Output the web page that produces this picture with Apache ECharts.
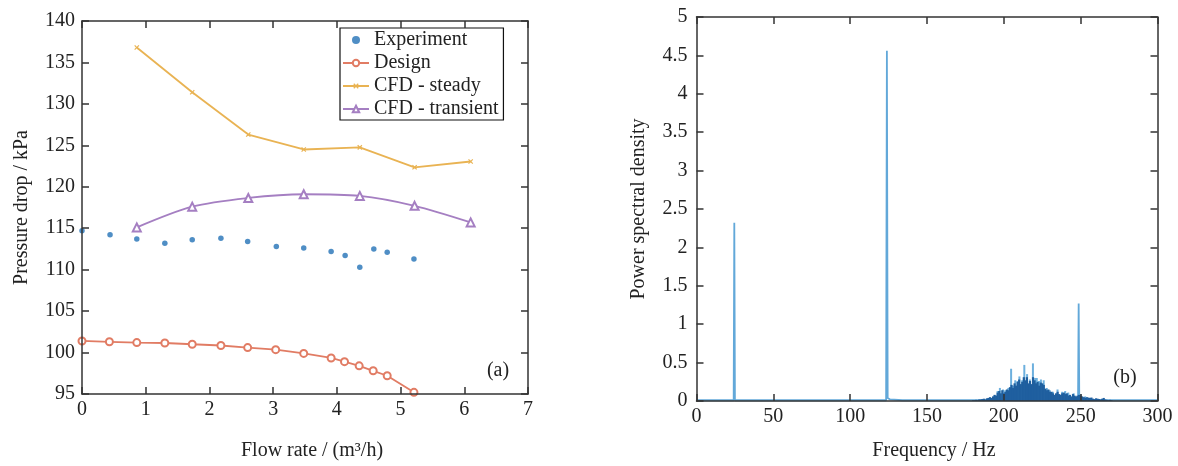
<!DOCTYPE html>
<html><head><meta charset="utf-8">
<script src="https://cdn.jsdelivr.net/npm/echarts@6/dist/echarts.min.js"></script>
<style>html,body{margin:0;padding:0;background:#fff}#c{width:1178px;height:466px}</style>
</head><body><div id="c"></div>
<script>
// ---- (a) pressure drop vs flow rate ----
const expFlow = [0, 0.44, 0.86, 1.30, 1.73, 2.18, 2.60, 3.05, 3.48, 3.91, 4.13, 4.36, 4.58, 4.79, 5.21];
const expDrop = [114.7, 114.2, 113.7, 113.2, 113.6, 113.8, 113.4, 112.8, 112.6, 112.2, 111.7, 110.3, 112.5, 112.1, 111.3];
const designFlow = [0, 0.43, 0.86, 1.30, 1.73, 2.18, 2.60, 3.04, 3.48, 3.91, 4.12, 4.35, 4.57, 4.79, 5.21];
const designDrop = [101.4, 101.3, 101.2, 101.15, 101.0, 100.85, 100.6, 100.35, 99.9, 99.35, 98.9, 98.4, 97.8, 97.2, 95.2];
const cfdFlow = [0.86, 1.73, 2.61, 3.48, 4.36, 5.22, 6.10];
const steadyDrop = [136.8, 131.4, 126.3, 124.5, 124.75, 122.35, 123.05];
const transientDrop = [115.1, 117.6, 118.65, 119.1, 118.9, 117.7, 115.7];
const seriesNames = ['Experiment', 'Design', 'CFD - steady', 'CFD - transient'];

// ---- (b) power spectral density ----
const peakFreq = [0, 24.2, 24.6, 25.0, 74, 74.5, 75, 123.4, 123.9, 124.4, 126, 127, 134, 134.5, 135, 170, 185, 248.3, 248.7, 249.1, 270, 300];
const peakValue = [0.01, 0.01, 2.32, 0.01, 0.01, 0.02, 0.01, 0.01, 4.56, 0.04, 0.02, 0.01, 0.01, 0.02, 0.01, 0.01, 0.01, 0.01, 1.27, 0.01, 0.01, 0.01];
const tipFreq = [194, 196, 197.5, 199.5, 201, 203, 204.8, 206, 207.5, 209, 210.2, 212, 213.4, 215.2, 217, 219.0, 220.5, 221.5, 223, 224.2, 226.0, 228, 230, 232, 235.0, 238, 240.0, 242, 245.5, 250, 253];
const tipValue = [0.07, 0.13, 0.17, 0.15, 0.14, 0.17, 0.42, 0.2, 0.27, 0.26, 0.32, 0.27, 0.47, 0.35, 0.28, 0.49, 0.3, 0.30, 0.26, 0.28, 0.27, 0.17, 0.14, 0.12, 0.15, 0.12, 0.13, 0.11, 0.10, 0.09, 0.06];
const bodyFreq = [180,181,182,183,184,185,186,187,188,189,190,191,192,193,194,195,196,197,198,199,
  200,201,202,203,204,205,206,207,208,209,210,211,212,213,214,215,216,217,218,219,
  220,221,222,223,224,225,226,227,228,229,230,231,232,233,234,235,236,237,238,239,
  240,241,242,243,244,245,246,247,248,249,250,251,252,253,254,255,256,257,258,259,
  260,261,262,263,264,265,266,267,268,269,270];
const bodyValue = [0.01,0.01,0.015,0.01,0.02,0.02,0.025,0.03,0.02,0.035,0.04,0.05,0.04,0.06,0.08,0.07,0.11,0.13,0.10,0.14,
  0.10,0.12,0.15,0.14,0.18,0.21,0.17,0.23,0.20,0.25,0.28,0.22,0.25,0.31,0.27,0.31,0.23,0.26,0.22,0.31,
  0.27,0.23,0.25,0.20,0.24,0.23,0.21,0.16,0.14,0.15,0.12,0.12,0.10,0.08,0.10,0.12,0.09,0.08,0.10,0.11,
  0.09,0.10,0.07,0.08,0.06,0.09,0.07,0.06,0.07,0.08,0.07,0.06,0.05,0.04,0.05,0.045,0.04,0.045,0.03,0.025,
  0.035,0.03,0.025,0.02,0.03,0.04,0.02,0.015,0.01,0.015,0.01];

const zip = (a, b) => a.map((v, i) => [v, b[i]]);
const FONT = 'Liberation Serif';
const AX = '#333';
const TXT = '#222';

function axisBase(extra) {
  return Object.assign({
    axisLine: { show: true, onZero: false, lineStyle: { color: AX, width: 1.5 } },
    axisTick: { show: true, inside: true, length: 7, lineStyle: { color: AX, width: 1.5 } },
    splitLine: { show: false },
    z: 10
  }, extra);
}
function labelStyle(margin) {
  return { show: true, margin: margin, fontSize: 20, fontFamily: FONT, color: TXT };
}
const noLabel = { show: false };

const chart = echarts.init(document.getElementById('c'), null, { renderer: 'canvas' });
chart.setOption({
  animation: false,
  backgroundColor: '#fff',
  textStyle: { fontFamily: FONT },
  grid: [
    { left: 82, top: 21, width: 446, height: 373 },
    { left: 696.5, top: 17, width: 461, height: 386 }
  ],
  xAxis: [
    axisBase({ gridIndex: 0, type: 'value', position: 'bottom', min: 0, max: 7, interval: 1,
      axisLabel: labelStyle(6), name: 'Flow rate / (m³/h)', nameLocation: 'middle', nameGap: 47,
      nameTextStyle: { fontSize: 20, fontFamily: FONT, color: TXT, padding: [0, 0, 0, 14] } }),
    axisBase({ gridIndex: 0, type: 'value', position: 'top', min: 0, max: 7, interval: 1, axisLabel: noLabel }),
    axisBase({ gridIndex: 1, type: 'value', position: 'bottom', min: 0, max: 300, interval: 50,
      axisLabel: labelStyle(6), name: 'Frequency / Hz', nameLocation: 'middle', nameGap: 40,
      nameTextStyle: { fontSize: 20, fontFamily: FONT, color: TXT, padding: [0, 0, 0, 14] } }),
    axisBase({ gridIndex: 1, type: 'value', position: 'top', min: 0, max: 300, interval: 50, axisLabel: noLabel })
  ],
  yAxis: [
    axisBase({ gridIndex: 0, type: 'value', position: 'left', min: 95, max: 140, interval: 5,
      axisLabel: labelStyle(7), name: 'Pressure drop / kPa', nameLocation: 'middle', nameGap: 50,
      nameTextStyle: { fontSize: 20, fontFamily: FONT, color: TXT } }),
    axisBase({ gridIndex: 0, type: 'value', position: 'right', min: 95, max: 140, interval: 5, axisLabel: noLabel }),
    axisBase({ gridIndex: 1, type: 'value', position: 'left', min: 0, max: 5, interval: 0.5,
      axisLabel: labelStyle(9), name: 'Power spectral density', nameLocation: 'middle', nameGap: 48,
      nameTextStyle: { fontSize: 20, fontFamily: FONT, color: TXT } }),
    axisBase({ gridIndex: 1, type: 'value', position: 'right', min: 0, max: 5, interval: 0.5, axisLabel: noLabel })
  ],
  legend: {
    data: seriesNames,
    orient: 'vertical', left: 340, top: 28, align: 'left',
    padding: [2, 5, 1, 2], itemGap: 3, itemWidth: 26, itemHeight: 8,
    borderColor: '#111', borderWidth: 1.2, backgroundColor: '#fff',
    textStyle: { fontSize: 20, fontFamily: FONT, color: TXT, lineHeight: 20 }
  },
  graphic: [
    { type: 'text', x: 498, y: 371, style: { text: '(a)', font: '20px "Liberation Serif"', fill: TXT, textAlign: 'center', textVerticalAlign: 'middle' } },
    { type: 'text', x: 1125, y: 378, style: { text: '(b)', font: '20px "Liberation Serif"', fill: TXT, textAlign: 'center', textVerticalAlign: 'middle' } }
  ],
  series: [
    { name: seriesNames[0], type: 'scatter', xAxisIndex: 0, yAxisIndex: 0, data: zip(expFlow, expDrop),
      symbol: 'circle', symbolSize: 5.5, itemStyle: { color: '#2372b6' }, z: 3 },
    { name: seriesNames[1], type: 'line', xAxisIndex: 0, yAxisIndex: 0, data: zip(designFlow, designDrop),
      symbol: 'emptyCircle', symbolSize: 7, lineStyle: { color: '#e17c64', width: 1.8 },
      itemStyle: { color: '#e17c64', borderWidth: 1.3 } },
    { name: seriesNames[2], type: 'line', xAxisIndex: 0, yAxisIndex: 0, data: zip(cfdFlow, steadyDrop),
      symbol: 'path://M4,0H6V4H10V6H6V10H4V6H0V4H4Z', symbolRotate: 45, symbolSize: 6,
      lineStyle: { color: '#e9b353', width: 1.8 }, itemStyle: { color: '#e9b353' } },
    { name: seriesNames[3], type: 'line', xAxisIndex: 0, yAxisIndex: 0, data: zip(cfdFlow, transientDrop),
      smooth: 0.3, symbol: 'emptyTriangle', symbolSize: 8,
      lineStyle: { color: '#a57fc2', width: 1.8 }, itemStyle: { color: '#a57fc2', borderWidth: 1.3 } },

    { name: 'PSD peaks', type: 'line', xAxisIndex: 2, yAxisIndex: 2, data: zip(peakFreq, peakValue),
      showSymbol: false, symbol: 'none', lineStyle: { color: '#62a8d9', width: 1.8 }, z: 1 },
    { name: 'PSD tips', type: 'bar', xAxisIndex: 2, yAxisIndex: 2, data: zip(tipFreq, tipValue),
      barWidth: 2, barGap: '-100%', itemStyle: { color: '#6db0de' }, z: 2 },
    { name: 'PSD body', type: 'bar', xAxisIndex: 2, yAxisIndex: 2, data: zip(bodyFreq, bodyValue),
      barWidth: 2.2, barGap: '-100%', itemStyle: { color: '#1f5f9f' }, z: 2 }
  ]
});
</script>
</body></html>
